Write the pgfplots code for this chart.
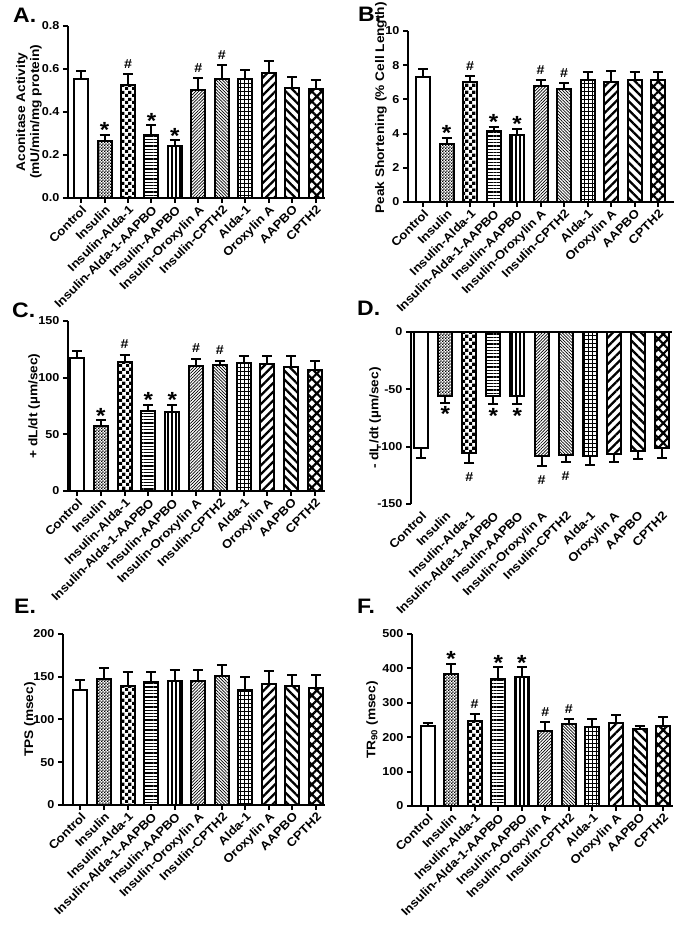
\documentclass[border=0pt]{standalone}
\usepackage{pgfplots}
\pgfplotsset{compat=1.18}
\usepackage{pgfplotstable}
\usetikzlibrary{patterns,patterns.meta}
\usepackage{fontspec}
\setmainfont{Liberation Sans}[FakeStretch=1.1]

\pgfdeclarepatternformonly{checkfine}{\pgfqpoint{0bp}{0bp}}{\pgfqpoint{2.8bp}{2.8bp}}{\pgfqpoint{2.8bp}{2.8bp}}{%
  \pgfpathrectangle{\pgfqpoint{0bp}{0bp}}{\pgfqpoint{1.4bp}{1.4bp}}%
  \pgfpathrectangle{\pgfqpoint{1.4bp}{1.4bp}}{\pgfqpoint{1.4bp}{1.4bp}}%
  \pgfusepath{fill}}
\pgfdeclarepatternformonly{checkbig}{\pgfqpoint{0bp}{0bp}}{\pgfqpoint{6.6bp}{6.6bp}}{\pgfqpoint{6.6bp}{6.6bp}}{%
  \pgfpathrectangle{\pgfqpoint{0bp}{0bp}}{\pgfqpoint{3.3bp}{3.3bp}}%
  \pgfpathrectangle{\pgfqpoint{3.3bp}{3.3bp}}{\pgfqpoint{3.3bp}{3.3bp}}%
  \pgfusepath{fill}}

\pgfplotsset{
  barbase/.style={ybar, bar width=14bp, bar shift=0pt, draw=black, line width=2bp},
  bar0/.style={fill=white},
  bar1/.style={pattern=checkfine},
  bar2/.style={pattern=checkbig},
  bar3/.style={pattern={Lines[angle=0,distance=3.3bp,line width=1.3bp]}},
  bar4/.style={pattern={Lines[angle=90,distance=4bp,line width=1.2bp]}},
  bar5/.style={pattern={Lines[angle=45,distance=2.2bp,line width=0.7bp]}},
  bar6/.style={pattern={Lines[angle=-45,distance=2.2bp,line width=0.7bp]}},
  bar7/.style={pattern={Hatch[angle=0,distance=4bp,line width=1bp]}},
  bar8/.style={pattern={Lines[angle=45,distance=6.2bp,line width=2.3bp]}},
  bar9/.style={pattern={Lines[angle=-45,distance=6.2bp,line width=2.3bp]}},
  bar10/.style={pattern={Hatch[angle=45,distance=7bp,line width=2.2bp]}},
  common/.style={
    scale only axis, anchor=south west, clip=false,
    axis lines*=left,
    axis line style={-, line width=2bp},
    tick align=outside,
    tick style={line width=2bp, black},
    major tick length=5bp,
    xtick={0,...,10},
    xticklabels={Control,Insulin,Insulin-Alda-1,Insulin-Alda-1-AAPBO,Insulin-AAPBO,Insulin-Oroxylin A,Insulin-CPTH2,Alda-1,Oroxylin A,AAPBO,CPTH2},
    xticklabel style={rotate=45, anchor=north east, inner sep=1bp, font=\fontsize{12}{12}\selectfont\bfseries},
    yticklabel style={font=\fontsize{11.5}{11.5}\selectfont\bfseries},
    ylabel style={font=\fontsize{12.5}{14}\selectfont\bfseries, align=center, anchor=center},
  },
  starup/.style={draw=none, nodes near coords={*}, nodes near coords style={anchor=base, inner sep=0pt, yshift=-3bp, font=\fontsize{22}{22}\selectfont\bfseries}},
  hashup/.style={draw=none, nodes near coords={\#}, nodes near coords style={anchor=base, inner sep=0pt, yshift=6bp, font=\fontsize{13}{13}\selectfont\bfseries}},
  stardown/.style={draw=none, nodes near coords={*}, nodes near coords style={anchor=base, inner sep=0pt, yshift=-19bp, font=\fontsize{22}{22}\selectfont\bfseries}},
  hashdown/.style={draw=none, nodes near coords={\#}, nodes near coords style={anchor=base, inner sep=0pt, yshift=-19bp, font=\fontsize{13}{13}\selectfont\bfseries}},
}

\newcommand{\bars}[2]{%
  \pgfplotsinvokeforeach{0,...,10}{%
    \addplot[barbase, bar##1, restrict expr to domain={\coordindex}{##1:##1},
      error bars/.cd, y dir=#2, y explicit,
      error bar style={line width=2bp,black},
      error mark options={rotate=90,mark size=5bp,line width=2bp,black}]
      table[x=x,y=y,y error=e]{#1};
  }%
}

\pgfplotstableread{
x y e
0 0.554 0.038
1 0.265 0.028
2 0.524 0.052
3 0.292 0.046
4 0.244 0.024
5 0.500 0.056
6 0.554 0.064
7 0.554 0.039
8 0.582 0.054
9 0.511 0.053
10 0.505 0.046
}\tabA
\pgfplotstableread{
x y e
0 7.30 0.45
1 3.42 0.35
2 7.01 0.35
3 4.14 0.25
4 3.93 0.35
5 6.80 0.33
6 6.58 0.37
7 7.13 0.47
8 7.01 0.65
9 7.13 0.49
10 7.13 0.47
}\tabB
\pgfplotstableread{
x y e
0 117.7 6.2
1 57.2 5.3
2 113.9 6.5
3 70.5 5.8
4 69.6 6.7
5 110.1 6.7
6 111.3 3.8
7 113.3 6.2
8 112.4 6.8
9 109.5 9.4
10 106.6 8.2
}\tabC
\pgfplotstableread{
x y e
0 -100.8 9.3
1 -56.2 5.3
2 -105.1 8.8
3 -56.2 6.7
4 -55.6 7.3
5 -107.8 8.7
6 -107.5 5.5
7 -108.1 7.8
8 -106.0 7.0
9 -103.4 7.6
10 -100.8 9.0
}\tabD
\pgfplotstableread{
x y e
0 134.0 12.5
1 147.3 13.2
2 139.5 16.4
3 143.4 12.5
4 144.9 13.3
5 144.9 13.3
6 150.4 12.9
7 134.8 14.8
8 141.0 16.0
9 138.7 12.9
10 136.3 15.3
}\tabE
\pgfplotstableread{
x y e
0 231.7 9.8
1 385.0 29.0
2 246.0 21.0
3 370.0 34.0
4 375.0 29.0
5 218.0 26.0
6 239.5 12.5
7 229.6 22.4
8 241.5 22.5
9 224.8 8.8
10 231.7 26.3
}\tabF

\begin{document}
\begin{tikzpicture}
\path[use as bounding box] (0,0) rectangle (682bp,928bp);
\tikzset{panel/.style={anchor=base west, inner sep=0pt, font=\fontsize{21}{21}\selectfont\bfseries}}
\node[panel] at (13bp,905bp) {A.};
\node[panel] at (358bp,906bp) {B.};
\node[panel] at (12bp,610bp) {C.};
\node[panel] at (357bp,612bp) {D.};
\node[panel] at (14bp,314bp) {E.};
\node[panel] at (357bp,314bp) {F.};

% A
\begin{axis}[common, at={(68bp,730bp)}, width=257bp, height=172bp,
  xmin=-0.56, xmax=10.4, ymin=0, ymax=0.8,
  ytick={0,0.2,0.4,0.6,0.8}, yticklabels={0.0,0.2,0.4,0.6,0.8},
  ylabel={Aconitase Activity\\(mU/min/mg protein)},
  ylabel style={at={(axis description cs:-0.152,0.5)}}]
\bars{\tabA}{plus}
\addplot[starup] coordinates {(1,0.293) (3,0.338) (4,0.268)};
\addplot[hashup] coordinates {(2,0.576) (5,0.556) (6,0.618)};
\end{axis}

% B
\begin{axis}[common, at={(408bp,726bp)}, width=266bp, height=171bp,
  xmin=-0.64, xmax=10.68, ymin=0, ymax=10,
  ytick={0,2,4,6,8,10}, yticklabels={0,2,4,6,8,10},
  ylabel={Peak Shortening (\%  Cell Length)},
  ylabel style={at={(axis description cs:-0.102,0.55)}}]
\bars{\tabB}{plus}
\addplot[starup] coordinates {(1,3.77) (3,4.39) (4,4.28)};
\addplot[hashup] coordinates {(2,7.36) (5,7.13) (6,6.95)};
\end{axis}

% C
\begin{axis}[common, at={(68bp,437bp)}, width=257bp, height=170bp,
  xmin=-0.38, xmax=10.42, ymin=0, ymax=150,
  ytick={0,50,100,150}, yticklabels={0,50,100,150},
  ylabel={+ dL/dt (µm/sec)},
  ylabel style={at={(axis description cs:-0.132,0.5)}}]
\bars{\tabC}{plus}
\addplot[starup] coordinates {(1,62.5) (3,76.3) (4,76.3)};
\addplot[hashup] coordinates {(2,120.4) (5,116.8) (6,115.1)};
\end{axis}

% D
\begin{axis}[common, at={(411bp,424bp)}, width=261bp, height=172bp,
  xmin=-0.42, xmax=10.42, ymin=-150, ymax=0,
  x axis line style={draw=none}, xtick style={draw=none},
  ytick={-150,-100,-50,0}, yticklabels={-150,-100,-50,0},
  ylabel={- dL/dt (µm/sec)},
  ylabel style={at={(axis description cs:-0.137,0.5)}}]
\bars{\tabD}{minus}
\draw[line width=2bp] (rel axis cs:0,1) -- (rel axis cs:1,1);
\addplot[stardown] coordinates {(1,-61.5) (3,-62.9) (4,-62.9)};
\addplot[hashdown] coordinates {(2,-113.9) (5,-116.5) (6,-113.0)};
\end{axis}

% E
\begin{axis}[common, at={(63bp,123bp)}, width=262bp, height=171bp,
  xmin=-0.74, xmax=10.38, ymin=0, ymax=200,
  ytick={0,50,100,150,200}, yticklabels={0,50,100,150,200},
  ylabel={TPS (msec)},
  ylabel style={at={(axis description cs:-0.126,0.5)}}]
\bars{\tabE}{plus}
\end{axis}

% F
\begin{axis}[common, at={(412bp,122bp)}, width=261bp, height=172bp,
  xmin=-0.66, xmax=10.42, ymin=0, ymax=500,
  ytick={0,100,200,300,400,500}, yticklabels={0,100,200,300,400,500},
  ylabel={TR\textsubscript{90} (msec)},
  ylabel style={at={(axis description cs:-0.153,0.5)}}]
\bars{\tabF}{plus}
\addplot[starup] coordinates {(1,414) (3,404) (4,404)};
\addplot[hashup] coordinates {(2,267) (5,244) (6,252)};
\end{axis}
\end{tikzpicture}
\end{document}
